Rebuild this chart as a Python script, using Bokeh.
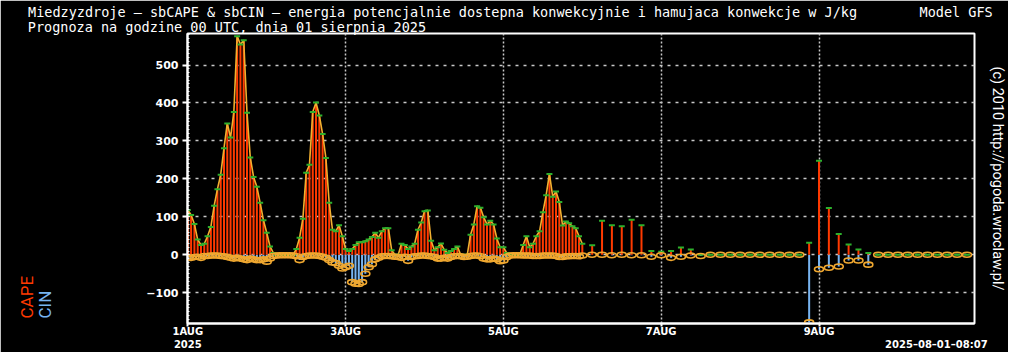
import math
from bokeh.plotting import figure
from bokeh.models import Range1d, FixedTicker, ColumnDataSource, Title, LinearAxis
from bokeh.embed import file_html
from bokeh.resources import INLINE

# ---------------- data ----------------
# hourly forecast steps (hours since 2025-08-01 00 UTC)
hours_1h = list(range(0, 121))
cape_1h = [118, 105, 81, 40, 26, 29, 49, 73, 129, 173,
           211, 281, 346, 309, 376, 576, 554, 565, 374, 256,
           205, 179, 137, 91, 58, 22, 5, 0, 0, 0,
           0, 0, 0, 15, 45, 95, 216, 237, 376, 401,
           367, 318, 255, 137, 66, 62, 78, 49, 15, 10,
           15, 26, 33, 33, 36, 40, 47, 58, 45, 62,
           70, 70, 12, 0, 0, 29, 26, 15, 22, 29,
           66, 85, 115, 117, 37, 12, 20, 30, 13, 5,
           10, 15, 22, 0, 0, 0, 53, 80, 128, 124,
           99, 80, 90, 80, 43, 20, 20, 5, 0, 0,
           0, 0, 26, 49, 20, 29, 49, 62, 112, 157,
           213, 153, 167, 139, 77, 88, 83, 75, 70, 49,
           29]
cin_1h = [-8, -8, -6, -5, -8, -3, -3, -2, -2, -2,
          -3, -4, -6, -8, -10, -8, -10, -12, -14, -10,
          -12, -14, -14, -12, -18, -10, -3, -2, -1, -1,
          -1, -1, -2, -4, -14, -6, -3, -2, -2, -2,
          -3, -5, -8, -14, -20, -22, -29, -36, -33, -29,
          -72, -76, -77, -72, -50, -33, -25, -12, -8, -4,
          -3, -3, -4, -5, -6, -8, -5, -16, -6, -4,
          -3, -2, -2, -3, -4, -6, -10, -10, -8, -10,
          -6, -4, -3, -4, -6, -5, -3, -2, -2, -4,
          -10, -12, -12, -10, -12, -17, -15, -6, -2, -1,
          -1, -1, -2, -2, -2, -3, -3, -3, -2, -2,
          -2, -2, -3, -6, -6, -4, -4, -3, -3, -4,
          -2]
# 3-hourly forecast steps
hours_3h = list(range(123, 238, 3))
cape_3h = [25, 90, 78, 75, 92, 78, 10, 8, 10, 19,
           14, 0, 0, 0, 0, 0, 0, 0, 0, 0,
           0, 0, 32, 248, 123, 55, 27, 14, 5, 0,
           0, 0, 0, 0, 0, 0, 0, 0, 0, 0]
cin_3h = [0, 0, -1, 0, -1, -1, -5, -1, -8, -5,
          -2, -3, 0, 0, 0, 0, 0, 0, 0, 0,
          0, 0, -178, -38, -34, -31, -15, -15, -26, 0,
          0, 0, 0, 0, 0, 0, 0, 0, 0, 0]

x_ticks = [0, 48, 96, 144, 192]
x_tick_labels = ["1AUG\n2025", "3AUG", "5AUG", "7AUG", "9AUG"]
y_ticks = [-100, 0, 100, 200, 300, 400, 500]

title1 = "Miedzyzdroje \u2014 sbCAPE & sbCIN \u2014 energia potencjalnie dostepna konwekcyjnie i hamujaca konwekcje w J/kg"
title2 = "Prognoza na godzine 00 UTC, dnia 01 sierpnia 2025"
model_txt = "Model GFS"
credit = "(c) 2010 http://pogoda.wroclaw.pl/"
stamp = "2025\u201308\u201301\u201308:07"
# positions (in forecast hours) where header / footer strings are centred
title1_pos = 77.5
title2_pos = 11.9
model_pos = 233.7
stamp_pos = 227.7

# ---------------- colours ----------------
CAPE_COL = "#ff3a00"
CAPE_LINE = "#f2b030"
CAP_GREEN = "#2db02d"
CIN_COL = "#78b4f0"
RING = "#f0a830"
GRID = "#c8c8c8"

hours_all = hours_1h + hours_3h
cape_all = cape_1h + cape_3h
cin_all = cin_1h + cin_3h
src = ColumnDataSource(dict(h=hours_all, cape=cape_all, cin=cin_all,
                            zero=[0] * len(hours_all)))
src_line = ColumnDataSource(dict(h=hours_1h, cape=cape_1h))

p = figure(width=1008, height=352, title=None,
           min_border_left=187, min_border_right=31,
           min_border_top=33, min_border_bottom=25,
           x_range=Range1d(-0.1, 239.3), y_range=Range1d(-181, 583),
           output_backend="svg", toolbar_location=None,
           background_fill_color="black", border_fill_color="black")
p.outline_line_color = "white"
p.outline_line_width = 2

# grids
p.ygrid.ticker = FixedTicker(ticks=y_ticks)
p.ygrid.grid_line_color = GRID
p.ygrid.grid_line_dash = "3 5"
p.ygrid.grid_line_width = 1.5
p.xgrid.ticker = FixedTicker(ticks=x_ticks[1:])
p.xgrid.grid_line_color = GRID
p.xgrid.grid_line_dash = "2 2"
p.xgrid.grid_line_width = 1.5

# axes
for ax in (p.xaxis[0], p.yaxis[0]):
    ax.axis_line_color = "white"
    ax.axis_line_width = 2
    ax.major_tick_line_color = "white"
    ax.major_tick_line_width = 2
    ax.major_tick_in = 0
    ax.major_label_text_color = "white"
    ax.major_label_text_font = "DejaVu Sans"
    ax.major_label_text_font_style = "bold"
    ax.major_label_text_font_size = "11px"

p.yaxis.ticker = FixedTicker(ticks=y_ticks, minor_ticks=list(range(-180, 590, 10)))
p.yaxis.major_tick_out = 5
p.yaxis.minor_tick_in = 2
p.yaxis.minor_tick_out = 0
p.yaxis.minor_tick_line_color = "white"
p.yaxis.major_label_standoff = 4
# blank axis label: only reserves room so the CAPE / CIN words sit far left
p.yaxis.axis_label = " "
p.yaxis.axis_label_standoff = 75
p.yaxis.axis_label_text_font_size = "10px"

# x axis: date labels + run time stamp as an extra label row
p.xaxis.ticker = FixedTicker(ticks=x_ticks + [stamp_pos], minor_ticks=x_ticks)
overrides = {t: l for t, l in zip(x_ticks, x_tick_labels)}
overrides[stamp_pos] = "\n" + stamp
p.xaxis.major_label_overrides = overrides
p.xaxis.major_tick_out = 0
p.xaxis.minor_tick_out = 3
p.xaxis.minor_tick_in = 0
p.xaxis.minor_tick_line_color = "white"
p.xaxis.minor_tick_line_width = 2
p.xaxis.major_label_standoff = -1
p.xaxis.major_label_text_font_size = "10px"

# glyphs
p.segment(x0="h", y0="zero", x1="h", y1="cin", source=src,
          line_color=CIN_COL, line_width=2)
p.segment(x0="h", y0="zero", x1="h", y1="cape", source=src,
          line_color=CAPE_COL, line_width=2)
p.line(x="h", y="cape", source=src_line, line_color=CAPE_LINE, line_width=1.6)
p.scatter(x="h", y="cape", source=src, marker="dash", size=6,
          line_color=CAP_GREEN, line_width=2)
p.ellipse(x="h", y="cin", source=src, width=9, height=5,
          width_units="screen", height_units="screen",
          fill_alpha=0, line_color=RING, line_width=1.6)

# header: two text rows carried by a bare axis above the frame
top_ax = LinearAxis(ticker=FixedTicker(ticks=[title2_pos, title1_pos, model_pos],
                                       minor_ticks=[]),
                    major_label_overrides={title1_pos: title1 + "\n",
                                           title2_pos: "\n" + title2,
                                           model_pos: model_txt + "\n"},
                    axis_line_color=None, major_tick_line_color=None,
                    minor_tick_line_color=None, major_tick_out=0, major_tick_in=0,
                    minor_tick_out=0, minor_tick_in=0, major_label_standoff=-1,
                    major_label_text_color="white",
                    major_label_text_font="DejaVu Sans Mono",
                    major_label_text_font_style="normal",
                    major_label_text_font_size="13.5px",
                    major_label_text_line_height=0.9)
p.add_layout(top_ax, "above")

# vertical legend words on the left
p.add_layout(Title(text="CIN", align="left", offset=5, standoff=0,
                   text_color=CIN_COL, text_font="Roboto",
                   text_font_style="normal", text_font_size="17px"), "left")
p.add_layout(Title(text="CAPE", align="left", offset=5, standoff=-8,
                   text_color=CAPE_COL, text_font="Roboto",
                   text_font_style="normal", text_font_size="17px"), "left")

# credit on the right, as the label of a bare right axis
right_ax = LinearAxis(ticker=FixedTicker(ticks=[], minor_ticks=[]),
                      axis_line_color=None, major_tick_line_color=None,
                      minor_tick_line_color=None, major_tick_out=0, major_tick_in=0,
                      minor_tick_out=0, minor_tick_in=0, major_label_standoff=0,
                      axis_label=credit, axis_label_standoff=14,
                      axis_label_text_color="white", axis_label_text_font="Roboto",
                      axis_label_text_font_style="normal",
                      axis_label_text_font_size="14.5px")
p.add_layout(right_ax, "right")

open("out.html", "w").write(file_html(p, INLINE))
